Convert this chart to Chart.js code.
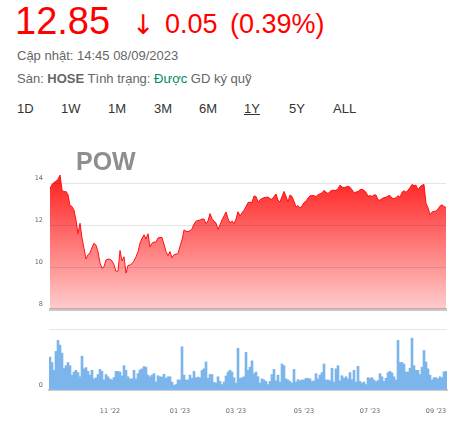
<!DOCTYPE html>
<html>
<head>
<meta charset="utf-8">
<title>POW</title>
<script src="https://cdn.jsdelivr.net/npm/chart.js@4.4.0/dist/chart.umd.min.js"></script>
<style>
    html, body { margin: 0; padding: 0; background: #fff; }
    body { position: relative; width: 464px; height: 427px; overflow: hidden;
           font-family: "Liberation Sans", Arial, sans-serif; }
    .t { position: absolute; white-space: nowrap; line-height: 1; }
    .red { color: #ff0000; }
    .info { font-size: 13px; color: #666; }
    .rng { font-size: 13px; color: #333; }
    canvas { position: absolute; left: 0; }
</style>
</head>
<body>
<div class="t red" style="left:15px;top:2px;font-size:38px;">12.85</div>
<div class="t red" style="left:132px;top:11px;font-size:27px;font-family:'DejaVu Sans',sans-serif;">↓</div>
<div class="t red" style="left:165px;top:10.5px;font-size:27px;">0.05</div>
<div class="t red" style="left:230px;top:10.5px;font-size:27px;">(0.39%)</div>

<div class="t info" style="left:17px;top:49px;">Cập nhật: 14:45 08/09/2023</div>
<div class="t info" style="left:17px;top:72px;">Sàn: <b>HOSE</b> Tình trạng: <span style="color:#008a5e">Được</span> GD ký quỹ</div>

<div class="t rng" style="left:17px;top:102px;">1D</div>
<div class="t rng" style="left:61px;top:102px;">1W</div>
<div class="t rng" style="left:108px;top:102px;">1M</div>
<div class="t rng" style="left:154px;top:102px;">3M</div>
<div class="t rng" style="left:199px;top:102px;">6M</div>
<div class="t rng" style="left:244px;top:102px;text-decoration:underline;">1Y</div>
<div class="t rng" style="left:289px;top:102px;">5Y</div>
<div class="t rng" style="left:333px;top:102px;">ALL</div>

<canvas id="pow-price" width="464" height="160" style="top:160px"></canvas>
<canvas id="pow-volume" width="464" height="107" style="top:320px"></canvas>
<div class="t" style="left:76px;top:149px;font-size:25px;font-weight:bold;color:#8e8e8e;z-index:2;">POW</div>

<script>
/* POW - 1Y price + volume */

// closing price, one point per ~1.3 trading days
var prices = [
    13.75, 13.95, 14.05, 14.1, 14.2, 14.4, 13.7, 13.6, 13.62, 13.47,
    12.94, 12.9, 12.72, 12.25, 11.6, 12.1, 11.4, 10.9, 10.4, 10.6,
    10.68, 10.95, 11.15, 11.05, 10.74, 10.2, 9.95, 10.02, 10.35, 10.39,
    10.38, 10.3, 10.12, 9.8, 9.83, 10.8, 10.3, 10.5, 9.72, 10.09,
    10.1, 10.17, 10.3, 10.5, 10.74, 11.15, 11.38, 11.55, 11.35, 11.6,
    10.97, 11.15, 11.2, 11.2, 11.4, 11.42, 11.42, 11.1, 10.75, 10.55,
    10.75, 10.45, 10.6, 10.62, 10.65, 11.0, 11.3, 11.78, 11.72, 11.7,
    11.74, 11.84, 12.05, 12.2, 12.23, 12.25, 12.3, 12.3, 12.08, 12.22,
    12.56, 12.33, 12.2, 12.11, 11.8, 12.03, 12.26, 12.45, 12.64, 12.33,
    12.11, 12.21, 12.08, 12.3, 12.65, 12.45, 12.6, 12.72, 12.9, 13.09,
    13.1, 13.1, 13.4, 13.38, 13.12, 13.22, 13.28, 13.32, 13.34, 13.35,
    13.27, 13.24, 13.38, 13.5, 13.2, 13.12, 13.38, 13.62, 13.39, 13.12,
    13.45, 13.38, 13.15, 12.88, 12.95, 12.82, 12.93, 13.09, 13.15, 13.3,
    13.41, 13.42, 13.42, 13.37, 13.47, 13.5, 13.55, 13.67, 13.58, 13.52,
    13.62, 13.67, 13.67, 13.67, 13.75, 13.92, 13.83, 13.8, 13.83, 13.87,
    13.82, 13.7, 13.55, 13.59, 13.62, 13.7, 13.72, 13.67, 13.58, 13.39,
    13.42, 13.38, 13.45, 13.45, 13.22, 13.2, 13.28, 13.32, 13.34, 13.4,
    13.42, 13.3, 13.27, 13.32, 13.42, 13.34, 13.58, 13.65, 13.58, 13.68,
    13.8, 13.95, 13.9, 13.92, 13.7, 13.83, 13.92, 13.95, 13.05, 12.85,
    12.5, 12.64, 12.66, 12.69, 12.78, 12.92, 12.98, 12.9, 12.85
];

// volume, million shares
var volumes = [
    21.9, 18.3, 13.1, 25.7, 33.0, 29.9, 24.6, 14.5, 16.2, 18.3,
    16.2, 9.9, 12.0, 13.1, 11.6, 8.8, 22.5, 14.1, 14.9, 12.4,
    9.9, 13.1, 7.4, 8.2, 10.3, 13.7, 12.4, 6.7, 10.3, 8.8,
    7.4, 6.7, 8.4, 12.4, 12.4, 12.0, 9.3, 16.2, 13.1, 8.8,
    7.4, 7.4, 13.1, 7.4, 10.9, 13.3, 14.1, 15.6, 15.2, 9.9,
    8.8, 9.9, 10.9, 5.3, 9.5, 8.8, 8.6, 10.5, 7.8, 8.8,
    8.8, 5.3, 3.2, 3.6, 6.7, 6.7, 28.8, 9.9, 6.7, 6.7,
    9.9, 7.8, 12.4, 8.2, 8.6, 8.2, 13.1, 14.1, 18.7, 7.8,
    10.3, 10.3, 5.1, 4.6, 8.8, 5.7, 3.6, 5.3, 9.3, 12.0,
    13.1, 12.0, 8.2, 4.6, 27.8, 7.8, 8.2, 8.8, 25.0, 13.1,
    15.2, 19.4, 10.9, 12.0, 8.8, 4.6, 7.4, 6.7, 5.7, 3.6,
    5.7, 10.3, 13.7, 6.1, 9.9, 5.3, 17.3, 16.2, 7.4, 6.7,
    5.7, 4.6, 13.7, 5.3, 6.9, 6.1, 6.7, 6.7, 7.8, 7.8,
    7.4, 5.7, 6.1, 10.9, 7.4, 9.9, 11.6, 17.3, 6.7, 6.7,
    6.1, 14.5, 5.3, 14.1, 16.2, 6.1, 9.5, 7.8, 8.8, 7.4,
    11.6, 6.9, 13.1, 5.3, 15.8, 5.7, 4.6, 5.3, 3.6, 8.2,
    7.8, 8.2, 6.7, 5.5, 6.3, 10.9, 8.8, 5.7, 7.8, 11.6,
    12.4, 11.4, 8.8, 6.7, 33.0, 18.3, 18.3, 17.3, 12.0, 12.0,
    14.5, 34.5, 16.2, 13.1, 13.1, 10.3, 15.2, 26.3, 18.7, 14.1,
    9.9, 6.7, 8.2, 8.2, 7.4, 8.8, 8.2, 12.0, 12.4
];

// month ticks on the volume axis (index into the series)
var tickIdx    = [30, 65, 93, 127, 160, 193];
var tickLabels = ["11 '22", "01 '23", "03 '23", "05 '23", "07 '23", "09 '23"];

var days = prices.map(function(p, i) { return i; });

Chart.defaults.font.family = '"DejaVu Sans", Verdana, sans-serif';
Chart.defaults.font.size = 6.5;
Chart.defaults.color = '#666';
Chart.defaults.animation = false;
Chart.defaults.plugins.legend.display = false;
Chart.defaults.plugins.tooltip.enabled = false;

function redFill(ctx) {
    var a = ctx.chart.chartArea;
    if (!a) return 'rgba(255,0,0,0.5)';
    var g = ctx.chart.ctx.createLinearGradient(0, a.top, 0, a.bottom);
    g.addColorStop(0, 'rgba(255,0,0,0.9)');
    g.addColorStop(1, 'rgba(255,0,0,0.2)');
    return g;
}

/* ── Price ── */
new Chart(document.getElementById('pow-price'), {
    type: 'line',
    data: { labels: days, datasets: [{
        data: prices, fill: 'start', backgroundColor: redFill,
        borderColor: 'rgba(255,10,10,0.95)', borderWidth: 1, pointRadius: 0
    }]},
    options: {
        responsive: false,
        layout: { padding: { top: 10, right: 18, bottom: 5, left: 0 } },
        scales: {
            x: { ticks: { display: false }, grid: { display: false, drawTicks: false },
                 border: { display: true, color: '#c8c8c8', width: 3 },
                 afterFit: function(s) { s.height = 0; } },
            y: { min: 8, max: 14.6,
                 ticks: { stepSize: 2, includeBounds: false, padding: 7, labelOffset: -5 },
                 grid: { drawTicks: false, z: 1,
                         color: function(c) { return c.tick && c.tick.value === 8 ? 'transparent' : 'rgba(0,0,0,0.1)'; } },
                 border: { display: false },
                 afterFit: function(s) { s.width = 50; } }
        }
    }
});

/* ── Volume ── */
new Chart(document.getElementById('pow-volume'), {
    type: 'bar',
    data: { labels: days, datasets: [{
        data: volumes, backgroundColor: '#7cb5ec',
        barPercentage: 1, categoryPercentage: 1, borderWidth: 0
    }]},
    options: {
        responsive: false,
        layout: { padding: { top: 6, right: 17, bottom: 0, left: 0 } },
        scales: {
            x: { afterBuildTicks: function(axis) { axis.ticks = tickIdx.map(function(v) { return { value: v }; }); },
                 ticks: { autoSkip: false, maxRotation: 0, padding: 17,
                          callback: function(v) { return tickLabels[tickIdx.indexOf(v)]; } },
                 grid: { display: false, drawTicks: false },
                 border: { color: '#cccccc', width: 2 },
                 afterFit: function(s) { s.height = 37; } },
            y: { min: 0, max: 40,
                 ticks: { stepSize: 40, padding: 6, labelOffset: -5,
                          callback: function(v) { return v === 0 ? '0' : ''; } },
                 grid: { color: '#e6e6e6', drawTicks: false },
                 border: { display: false },
                 afterFit: function(s) { s.width = 49; } }
        }
    }
});
</script>
</body>
</html>
